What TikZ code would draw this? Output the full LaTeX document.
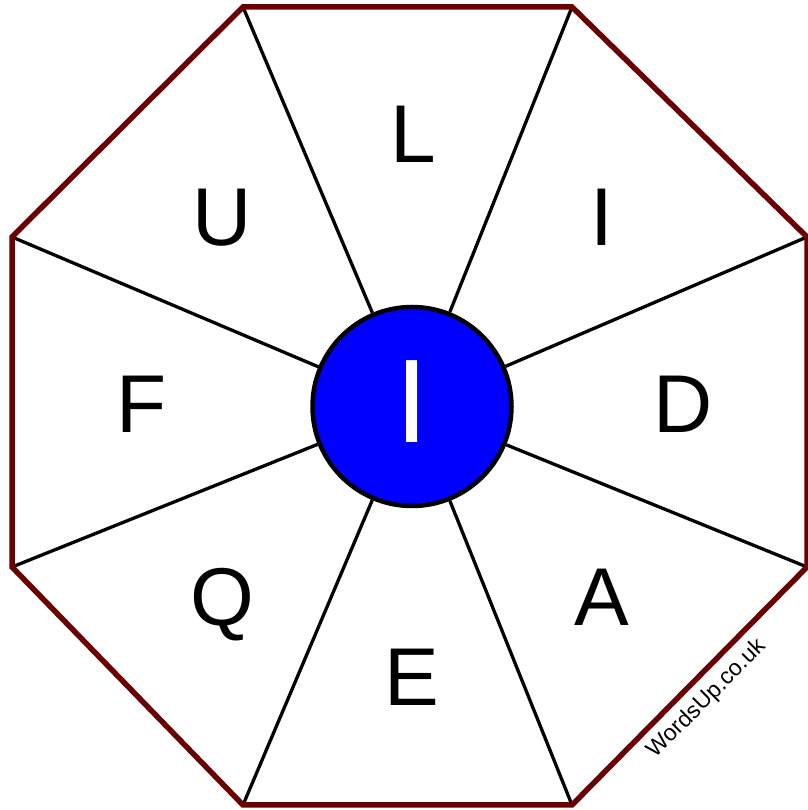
\documentclass[tikz,border=0pt]{standalone}
\usepackage{fontspec,xcolor,tikz}
\setmainfont{Liberation Sans}
\definecolor{rim}{HTML}{6B0000}
\definecolor{hubblue}{HTML}{0000FF}
\newcommand{\tilef}{\fontsize{82}{82}\selectfont}
\newcommand{\hubf}{\fontsize{119}{119}\selectfont}
\newcommand{\markf}{\fontsize{23}{23}\selectfont}
\tikzset{
  spoke/.style={black,line width=3.3pt},
  tileletter/.style={inner sep=0,anchor=base,text=black,font=\tilef},
}

\begin{document}
\begin{tikzpicture}[x=1pt,y=1pt]
\useasboundingbox (0,0) rectangle (807,810);
% corners of the octagon
\coordinate (v1) at (243,803);
\coordinate (v2) at (572,803);
\coordinate (v3) at (807,573);
\coordinate (v4) at (807,243);
\coordinate (v5) at (572,5);
\coordinate (v6) at (243,5);
\coordinate (v7) at (12,243);
\coordinate (v8) at (12,573);
\node[circle,draw=black,line width=4.5pt,fill=hubblue,minimum size=199pt,inner sep=0] (hub) at (412,403.5) {};
\draw[spoke] (hub) -- (v1);
\draw[spoke] (hub) -- (v2);
\draw[spoke] (hub) -- (v3);
\draw[spoke] (hub) -- (v4);
\draw[spoke] (hub) -- (v5);
\draw[spoke] (hub) -- (v6);
\draw[spoke] (hub) -- (v7);
\draw[spoke] (hub) -- (v8);
\draw[rim,line width=5.5pt] (v1) -- (v2) -- (v3) -- (v4) -- (v5) -- (v6) -- (v7) -- (v8) -- cycle;
\node[inner sep=0,anchor=base,text=white,font=\hubf] (hubl) at (412,367) {I};
% outer letters
\node[tileletter] (tn) at (413,647) {L};
\node[tileletter] (tne) at (602,564) {I};
\node[tileletter] (te) at (683,377) {D};
\node[tileletter] (tse) at (602,184) {A};
\node[tileletter] (ts) at (412,104) {E};
\node[tileletter] (tsw) at (222,184) {Q};
\node[tileletter] (tw) at (142,377) {F};
\node[tileletter] (tnw) at (222,564) {U};
\node[inner sep=0,rotate=45,text=black,font=\markf] (wm) at (707,111) {WordsUp.co.uk};
\end{tikzpicture}
\end{document}
